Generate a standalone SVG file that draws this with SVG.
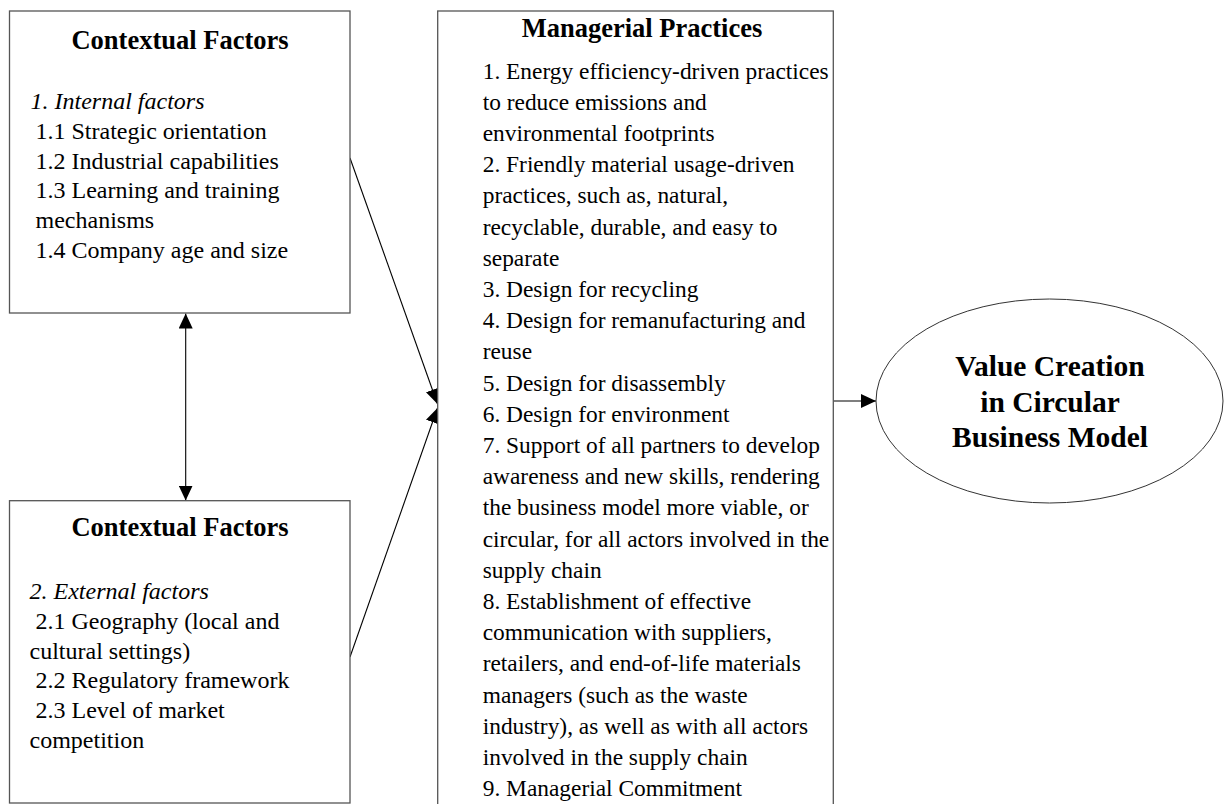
<svg xmlns="http://www.w3.org/2000/svg" width="1225" height="804" viewBox="0 0 1225 804">
  <style>
    .box { fill: #ffffff; stroke: #555555; stroke-width: 1.3; }
    .oval { fill: #ffffff; stroke: #333333; stroke-width: 1; }
    .title { font-family: "Liberation Serif", "Times New Roman", Times, serif; font-weight: bold; font-size: 26.5px; fill: #000; text-anchor: middle; }
    .big { font-family: "Liberation Serif", "Times New Roman", Times, serif; font-weight: bold; font-size: 29.5px; fill: #000; text-anchor: middle; }
    .txt { font-family: "Liberation Serif", "Times New Roman", Times, serif; font-size: 24px; fill: #000; }
    .list { font-family: "Liberation Serif", "Times New Roman", Times, serif; font-size: 23.4px; fill: #000; }
    .it { font-style: italic; }
    .wire { stroke: #000; stroke-width: 1.1; fill: none; }
  </style>
  <defs>
    <marker id="head" viewBox="0 0 15 14" refX="15" refY="7" markerWidth="15" markerHeight="14" markerUnits="userSpaceOnUse" orient="auto-start-reverse">
      <path d="M0,0 L15,7 L0,14 z" fill="#000"/>
    </marker>
  </defs>

  <rect width="1225" height="804" fill="#ffffff"/>

  <!-- connectors -->
  <g id="connectors">
    <line class="wire" x1="185.7" y1="313.5" x2="185.7" y2="500.5" marker-start="url(#head)" marker-end="url(#head)"/>
    <line class="wire" x1="350" y1="158" x2="437.5" y2="404" marker-end="url(#head)"/>
    <line class="wire" x1="350" y1="657" x2="437.5" y2="408" marker-end="url(#head)"/>
    <line class="wire" x1="833.5" y1="401" x2="876" y2="401" marker-end="url(#head)"/>
  </g>

  <!-- internal contextual factors -->
  <g id="internal-factors">
    <rect class="box" x="9.5" y="11" width="340.5" height="302"/>
    <text class="title" x="180" y="48.5">Contextual Factors</text>
    <text class="txt it" x="30.5" y="109">1. Internal factors</text>
    <text class="txt" x="35.5" y="138.75">1.1 Strategic orientation</text>
    <text class="txt" x="35.5" y="168.5">1.2 Industrial capabilities</text>
    <text class="txt" x="35.5" y="198.25">1.3 Learning and training</text>
    <text class="txt" x="35.5" y="228">mechanisms</text>
    <text class="txt" x="35.5" y="257.75">1.4 Company age and size</text>
  </g>

  <!-- external contextual factors -->
  <g id="external-factors">
    <rect class="box" x="9.5" y="500.7" width="340.5" height="302.3"/>
    <text class="title" x="180" y="536">Contextual Factors</text>
    <text class="txt it" x="29.5" y="599">2. External factors</text>
    <text class="txt" x="35.5" y="628.75">2.1 Geography (local and</text>
    <text class="txt" x="29.5" y="658.5">cultural settings)</text>
    <text class="txt" x="35.5" y="688.25">2.2 Regulatory framework</text>
    <text class="txt" x="35.5" y="718">2.3 Level of market</text>
    <text class="txt" x="29.5" y="747.75">competition</text>
  </g>

  <!-- managerial practices -->
  <g id="managerial-practices">
    <rect class="box" x="437.7" y="11" width="395.6" height="800"/>
    <text class="title" x="642" y="36.5">Managerial Practices</text>
    <text class="list" x="482.7" y="78.5">
      <tspan x="482.7" dy="0">1. Energy efficiency-driven practices</tspan>
      <tspan x="482.7" dy="31.2">to reduce emissions and</tspan>
      <tspan x="482.7" dy="31.2">environmental footprints</tspan>
      <tspan x="482.7" dy="31.2">2. Friendly material usage-driven</tspan>
      <tspan x="482.7" dy="31.2">practices, such as, natural,</tspan>
      <tspan x="482.7" dy="31.2">recyclable, durable, and easy to</tspan>
      <tspan x="482.7" dy="31.2">separate</tspan>
      <tspan x="482.7" dy="31.2">3. Design for recycling</tspan>
      <tspan x="482.7" dy="31.2">4. Design for remanufacturing and</tspan>
      <tspan x="482.7" dy="31.2">reuse</tspan>
      <tspan x="482.7" dy="31.2">5. Design for disassembly</tspan>
      <tspan x="482.7" dy="31.2">6. Design for environment</tspan>
      <tspan x="482.7" dy="31.2">7. Support of all partners to develop</tspan>
      <tspan x="482.7" dy="31.2">awareness and new skills, rendering</tspan>
      <tspan x="482.7" dy="31.2">the business model more viable, or</tspan>
      <tspan x="482.7" dy="31.2">circular, for all actors involved in the</tspan>
      <tspan x="482.7" dy="31.2">supply chain</tspan>
      <tspan x="482.7" dy="31.2">8. Establishment of effective</tspan>
      <tspan x="482.7" dy="31.2">communication with suppliers,</tspan>
      <tspan x="482.7" dy="31.2">retailers, and end-of-life materials</tspan>
      <tspan x="482.7" dy="31.2">managers (such as the waste</tspan>
      <tspan x="482.7" dy="31.2">industry), as well as with all actors</tspan>
      <tspan x="482.7" dy="31.2">involved in the supply chain</tspan>
      <tspan x="482.7" dy="31.2">9. Managerial Commitment</tspan>
    </text>
  </g>

  <!-- outcome -->
  <g id="value-creation">
    <ellipse class="oval" cx="1049.5" cy="401" rx="173.5" ry="102"/>
    <text class="big" x="1050" y="376">Value Creation</text>
    <text class="big" x="1050" y="411.5">in Circular</text>
    <text class="big" x="1050" y="447">Business Model</text>
  </g>
</svg>
